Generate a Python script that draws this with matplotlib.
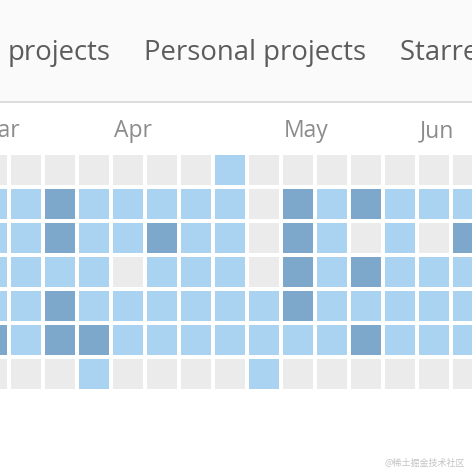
import matplotlib
matplotlib.use("Agg")
import matplotlib.pyplot as plt
from matplotlib.patches import Rectangle
import numpy as np

# Data: activity level per column (week) and row (weekday); 0 = none, 1 = some, 2 = more
levels = [
    [0, 1, 1, 1, 1, 2, 0],
    [0, 1, 1, 1, 1, 1, 0],
    [0, 2, 2, 1, 2, 2, 0],
    [0, 1, 1, 1, 1, 2, 1],
    [0, 1, 1, 0, 1, 1, 0],
    [0, 1, 2, 1, 1, 1, 0],
    [0, 1, 1, 1, 1, 1, 0],
    [1, 1, 1, 1, 1, 1, 0],
    [0, 0, 0, 0, 1, 1, 1],
    [0, 2, 2, 2, 2, 1, 0],
    [0, 1, 1, 1, 1, 1, 0],
    [0, 2, 0, 2, 1, 2, 0],
    [0, 1, 1, 1, 1, 1, 0],
    [0, 1, 0, 1, 1, 1, 0],
    [0, 1, 2, 1, 1, 1, 0],
]
month_labels = ["Mar", "Apr", "May", "Jun"]
month_cols = [0, 4, 9, 13]
tab_labels = ["Group projects", "Personal projects", "Starred projects"]

colors = ["#ebebeb", "#a9d3f1", "#7ea8cb"]

W = H = 472
fig = plt.figure(figsize=(W / 100, H / 100), dpi=100)
fig.patch.set_facecolor("white")

PITCH = 34.0
CELL = 30.0
X0 = -23.0
Y0 = 155.0

ax = fig.add_axes([0, 0, 1, 1])
ax.set_xlim((0 - X0) / PITCH, (W - X0) / PITCH)
ax.set_ylim((H - Y0) / PITCH, (0 - Y0) / PITCH)
ax.axis("off")

def py(p):
    return (p - Y0) / PITCH

def px(p):
    return (p - X0) / PITCH

ax.add_patch(Rectangle((px(0), py(0)), W / PITCH, 101 / PITCH,
                       facecolor="#fafafa", edgecolor="none", zorder=0))
ax.add_patch(Rectangle((px(0), py(101)), W / PITCH, 2 / PITCH,
                       facecolor="#dcdcdc", edgecolor="none", zorder=1))

TAB_FS = 19.8
ax.text(px(144), py(60), tab_labels[1], fontsize=TAB_FS, color="#5c5c5c",
        family="Open Sans", ha="left", va="baseline")
ax.text(px(8), py(60), tab_labels[0].split(" ", 1)[1], fontsize=TAB_FS, color="#5c5c5c",
        family="Open Sans", ha="left", va="baseline")
ax.text(px(400), py(60), tab_labels[2], fontsize=TAB_FS, color="#5c5c5c",
        family="Open Sans", ha="left", va="baseline", clip_on=True)

for m, c in zip(month_labels, month_cols):
    ax.text(c + 0.03, py(137), m, fontsize=16.5, color="#8c8c8c",
            family="Open Sans", ha="left", va="baseline", clip_on=True)

s = CELL / PITCH
for i, col in enumerate(levels):
    for j, v in enumerate(col):
        ax.add_patch(Rectangle((i, j), s, s, facecolor=colors[v],
                               edgecolor="none", zorder=2))

ax.text(px(465), py(466), "@稀土掘金技术社区", fontsize=6.5, color="#c4c4c4",
        family=["Noto Sans CJK SC", "DejaVu Sans"], ha="right", va="baseline")

fig.savefig("out.png", dpi=100, facecolor="white")
